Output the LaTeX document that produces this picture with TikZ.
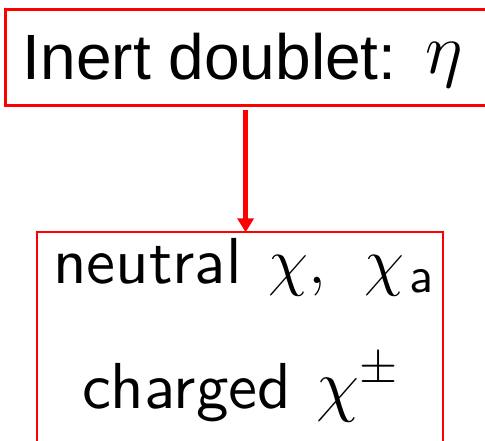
\RequirePackage{fix-cm}
\documentclass[tikz,border=0pt]{standalone}
\usepackage{fontspec}
\newfontfamily\arialfont{Liberation Sans}
\setsansfont{lmsans10-regular.otf}
\usetikzlibrary{arrows.meta}
\begin{document}
\begin{tikzpicture}[x=1pt,y=-1pt,
  boxstyle/.style={draw=red, inner sep=0pt, outer sep=0pt, anchor=north west},
  txt/.style={anchor=base west, inner sep=0pt, outer sep=0pt},
  link/.style={draw=red, line width=4.6pt, -{Triangle[width=16pt,length=14pt]}}]
\useasboundingbox (0,0) rectangle (485,441);
\clip (0,0) rectangle (485,441);
\node[boxstyle, line width=3pt, minimum width=490pt, minimum height=96pt] (inert) at (5,9.7) {};
\node[boxstyle, line width=2.3pt, minimum width=406pt, minimum height=230pt] (states) at (36.7,232.3) {};
\coordinate (axis) at (245.6,0);
\node[txt] (title) at (23,80) {\arialfont\fontsize{64}{70}\selectfont Inert doublet:\hspace{29pt}\raisebox{6pt}{\fontsize{72}{80}\selectfont$\eta$}};
\node[txt] (neutral) at (53,283) {\sffamily\fontsize{65}{70}\selectfont neutral\hspace{27pt}$\chi{,}\hspace{38.5pt}\chi_{\kern5pt\hbox{\sffamily\fontsize{50}{56}\selectfont a}}$};
\node[txt] (charged) at (82,408) {\sffamily\fontsize{65}{70}\selectfont charged\hspace{25pt}{\fontsize{70}{80}\selectfont$\chi^{\pm}$}};
\draw[link, shorten <=4pt] (inert.south -| axis) -- (states.north -| axis);
\end{tikzpicture}
\end{document}
